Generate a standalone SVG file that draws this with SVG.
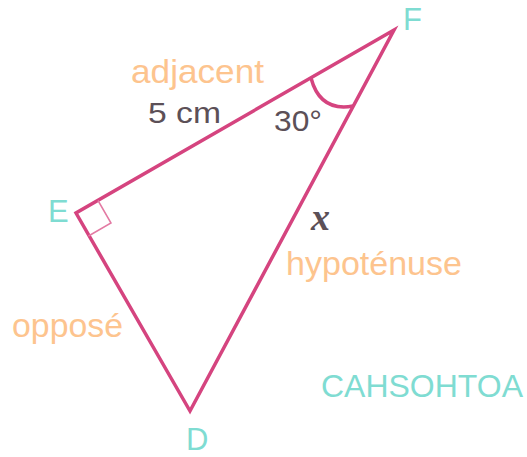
<svg xmlns="http://www.w3.org/2000/svg" width="527" height="457" viewBox="0 0 527 457">
<style>
.edge{fill:none;stroke:#d5447f;stroke-width:3.5;stroke-linejoin:miter}
.thin{fill:none;stroke:#e37aa3;stroke-width:1.5}
.vtx{font-family:"Liberation Sans",Arial,sans-serif;font-size:31px;fill:#7fdcd2}
.lbl{font-family:"Liberation Sans",Arial,sans-serif;font-size:34px;fill:#fdc48e}
.val{font-family:"Liberation Sans",Arial,sans-serif;font-size:30px;fill:#5c5057}
</style>
<rect width="527" height="457" fill="#ffffff"/>
<g id="connectors">
<path class="edge" d="M394,30 L76,213 L190,411 Z"/>
<path class="thin" d="M98,200.5 L111,223 L88.5,236"/>
<path class="edge" d="M311,78 Q320,112 353,106" stroke-width="4"/>
</g>
<g id="node-F"><text class="vtx" x="403" y="30">F</text></g>
<g id="node-E"><text class="vtx" x="48" y="222">E</text></g>
<g id="node-D"><text class="vtx" x="186" y="450" font-size="29px">D</text></g>
<g id="label-adjacent"><text class="lbl" x="131" y="83" textLength="133" lengthAdjust="spacingAndGlyphs">adjacent</text></g>
<g id="label-5cm"><text class="val" x="148" y="123" textLength="73" lengthAdjust="spacingAndGlyphs">5 cm</text></g>
<g id="label-angle"><text class="val" x="274" y="131" textLength="48" lengthAdjust="spacingAndGlyphs">30°</text></g>
<g id="label-x"><text x="311" y="230" font-family="'Liberation Serif',serif" font-style="italic" font-weight="bold" font-size="38" fill="#5c5057">x</text></g>
<g id="label-hyp"><text class="lbl" x="286" y="275" textLength="176" lengthAdjust="spacingAndGlyphs">hypoténuse</text></g>
<g id="label-opp"><text class="lbl" x="12" y="337" textLength="111" lengthAdjust="spacingAndGlyphs">opposé</text></g>
<g id="label-mnemonic"><text class="vtx" x="321" y="397" textLength="202" lengthAdjust="spacingAndGlyphs">CAHSOHTOA</text></g>
</svg>
